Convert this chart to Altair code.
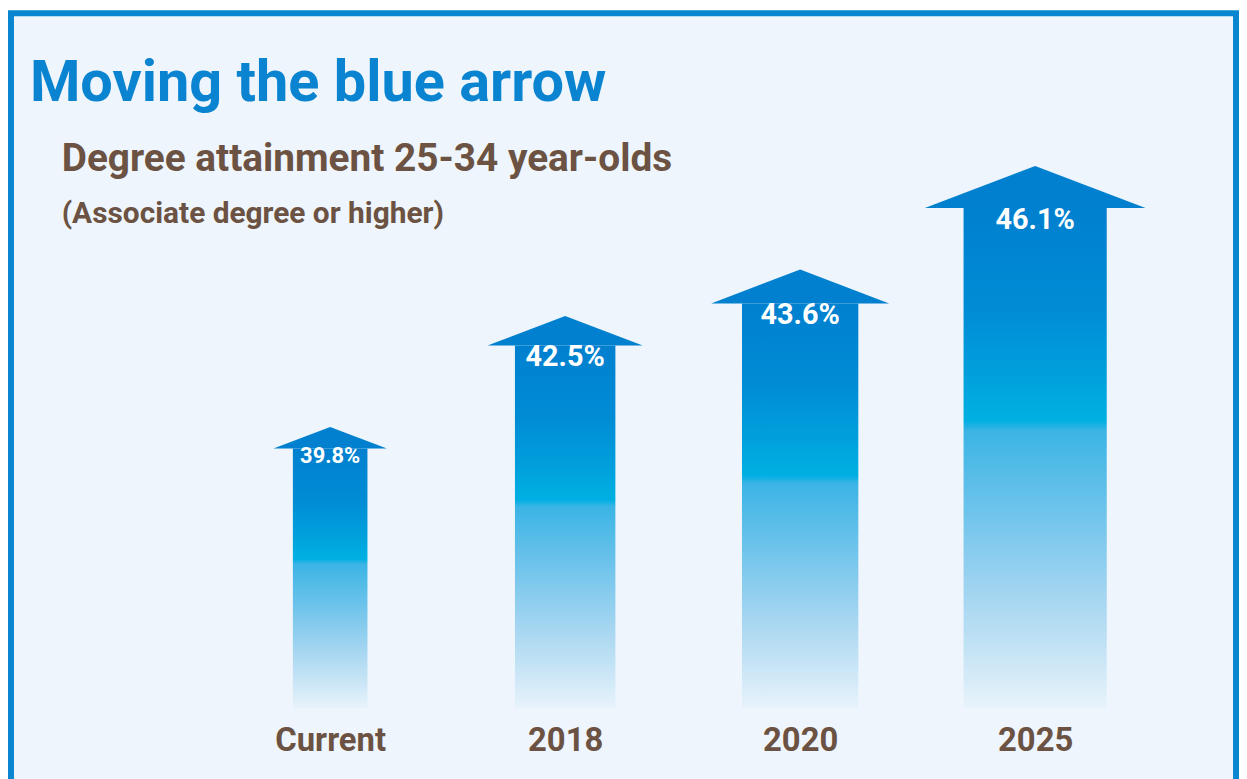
import altair as alt
import pandas as pd

# ---- data ----
YEARS = ["Current", "2018", "2020", "2025"]
VALUES = [39.8, 42.5, 43.6, 46.1]
TITLE = "Moving the blue arrow"
SUBTITLE_1 = "Degree attainment 25-34 year-olds"
SUBTITLE_2 = "(Associate degree or higher)"
BASE = 33.0  # arrow foot value

# ---- styles ----
BODY_W = [75, 101, 117, 144]          # arrow shaft widths (px)
HEAD_W = [114, 156, 179, 222]         # arrow head widths (px)
FONT = "Roboto, 'Liberation Sans', sans-serif"
BLUE = "#0a84d0"
TOP = "#0080cf"
BROWN = "#6b5242"
BG = "#eef5fc"

df = pd.DataFrame({"year": YEARS, "value": VALUES})

gradient = alt.LinearGradient(
    gradient="linear", x1=0, x2=0, y1=0, y2=1,
    stops=[
        alt.GradientStop(color=TOP, offset=0),
        alt.GradientStop(color="#008cd5", offset=0.2),
        alt.GradientStop(color="#009fdc", offset=0.33),
        alt.GradientStop(color="#00aee1", offset=0.41),
        alt.GradientStop(color="#00afe2", offset=0.425),
        alt.GradientStop(color="#3bb4e5", offset=0.445),
        alt.GradientStop(color="#66c1ea", offset=0.58),
        alt.GradientStop(color="#a6d6f1", offset=0.78),
        alt.GradientStop(color="#bde0f4", offset=0.86),
        alt.GradientStop(color="#e8f3fb", offset=1),
    ],
)

W, H = 1232, 790

x_enc = alt.X(
    "year:N", sort=YEARS,
    scale=alt.Scale(type="point", domain=YEARS, range=[321, 1030], padding=0),
    axis=alt.Axis(title=None, domain=False, ticks=False, tickSize=0, grid=False,
                  labelPadding=0, offset=-75, labelAngle=0, labelBaseline="top",
                  labelFont=FONT, labelFontSize=33, labelFontWeight="bold",
                  labelColor=BROWN),
)
y_enc = alt.Y("value:Q", scale=alt.Scale(domain=[BASE, 50], range=[699, 46], zero=False, nice=False),
              axis=None)

base = alt.Chart(df)

shaft = base.mark_bar(fill=gradient).encode(
    x=x_enc, y=y_enc, y2=alt.datum(BASE),
    size=alt.Size("value:Q", scale=alt.Scale(type="quantile", range=BODY_W), legend=None),
)

head = base.mark_point(shape="M-1,0L1,0L0,-0.38Z", filled=True, color=TOP, opacity=1, strokeWidth=0).encode(
    x=x_enc, y=y_enc,
    size=alt.Size("value:Q", scale=alt.Scale(type="quantile", range=[w * w for w in HEAD_W]), legend=None),
)

labels = base.transform_calculate(
    label="format(datum.value, '.1f') + '%'"
).mark_text(color="white", font=FONT, fontWeight="bold", baseline="top", align="center", dy=-2).encode(
    x=x_enc, y=y_enc, text="label:N",
    size=alt.condition(alt.datum.year == "Current", alt.value(22), alt.value(29)),
)


def text_layer(txt, size, color, x, y):
    return alt.Chart(pd.DataFrame({"t": [txt]})).mark_text(
        font=FONT, fontWeight="bold", fontSize=size, color=color, align="left", baseline="alphabetic"
    ).encode(text="t:N", x=alt.value(x), y=alt.value(y))


t1 = text_layer(TITLE, 58, BLUE, 19, 88)
t2 = text_layer(SUBTITLE_1, 39, BROWN, 51, 159)
t3 = text_layer(SUBTITLE_2, 30, BROWN, 51, 211)

chart = alt.layer(shaft, head, labels, t1, t2, t3).resolve_scale(size="independent").properties(
    width=W, height=H, padding=3, autosize="none", background="white"
).configure_view(fill=BG, stroke="#0a86d1", strokeWidth=6)

chart.save("out.html", embed_options={"renderer": "svg", "actions": False})
